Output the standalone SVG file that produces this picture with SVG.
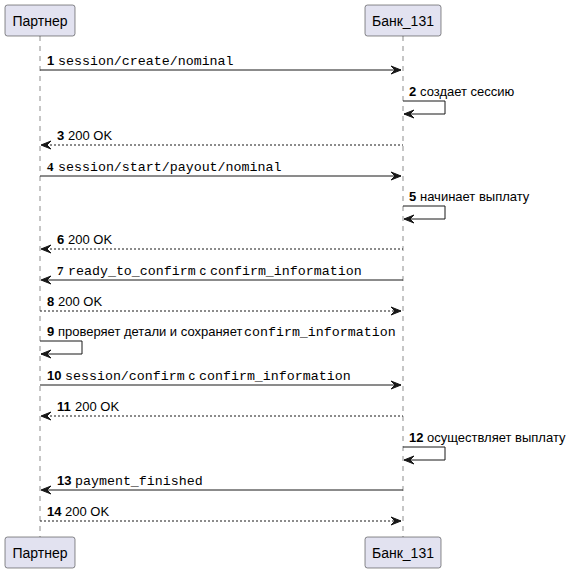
<svg xmlns="http://www.w3.org/2000/svg" width="572" height="573" viewBox="0 0 572 573">
<style>
.box{fill:#E2E2F0;stroke:#181818;stroke-width:0.5}
.life{stroke:#181818;stroke-width:0.5;stroke-dasharray:5,5;fill:none}
.msg{stroke:#181818;stroke-width:1;fill:none}
.ret{stroke:#181818;stroke-width:1;stroke-dasharray:2,2;fill:none}
.head{fill:#181818;stroke:#181818;stroke-width:1}
.pt{font-family:"Liberation Sans",Arial,sans-serif;font-size:14px;fill:#000000}
.t{font-family:"Liberation Sans",Arial,sans-serif;font-size:13px;fill:#000000}
.n{font-family:"Liberation Sans",Arial,sans-serif;font-size:13px;font-weight:bold;fill:#000000}
.ns{font-family:"Liberation Serif","Times New Roman",serif;font-size:13px;font-weight:bold;fill:#000000}
.m{font-family:"Liberation Mono","Courier New",monospace;font-size:13.3px;fill:#000000}
</style>
<rect width="572" height="573" fill="#FFFFFF"/>
<g id="lifelines">
<line class="life" x1="40" y1="36" x2="40" y2="537"/>
<line class="life" x1="403" y1="36" x2="403" y2="537"/>
</g>
<g id="partner">
<rect class="box" x="5" y="5" width="70" height="31" rx="2.5"/>
<text class="pt" x="40" y="25.5" text-anchor="middle">Партнер</text>
<rect class="box" x="5" y="537" width="70" height="31" rx="2.5"/>
<text class="pt" x="40" y="557.5" text-anchor="middle">Партнер</text>
</g>
<g id="bank">
<rect class="box" x="365" y="5" width="76" height="31" rx="2.5"/>
<text class="pt" x="403" y="25.5" text-anchor="middle">Банк_131</text>
<rect class="box" x="365" y="537" width="76" height="31" rx="2.5"/>
<text class="pt" x="403" y="557.5" text-anchor="middle">Банк_131</text>
</g>
<g id="connectors">
<!-- 1 -->
<line class="msg" x1="40" y1="70" x2="401" y2="70"/>
<polygon class="head" points="391,66 401,70 391,74 395,70"/>
<!-- 2 self -->
<polyline class="msg" points="403,101 445,101 445,114 404,114"/>
<polygon class="head" points="414,110 404,114 414,118 410,114"/>
<!-- 3 -->
<line class="ret" x1="42" y1="145" x2="403" y2="145"/>
<polygon class="head" points="51,141 41,145 51,149 47,145"/>
<!-- 4 -->
<line class="msg" x1="40" y1="176" x2="401" y2="176"/>
<polygon class="head" points="391,172 401,176 391,180 395,176"/>
<!-- 5 self -->
<polyline class="msg" points="403,206 445,206 445,219 404,219"/>
<polygon class="head" points="414,215 404,219 414,223 410,219"/>
<!-- 6 -->
<line class="ret" x1="42" y1="249" x2="403" y2="249"/>
<polygon class="head" points="51,245 41,249 51,253 47,249"/>
<!-- 7 -->
<line class="msg" x1="42" y1="280" x2="403" y2="280"/>
<polygon class="head" points="51,276 41,280 51,284 47,280"/>
<!-- 8 -->
<line class="ret" x1="40" y1="311" x2="401" y2="311"/>
<polygon class="head" points="391,307 401,311 391,315 395,311"/>
<!-- 9 self -->
<polyline class="msg" points="40,341 82,341 82,354 41,354"/>
<polygon class="head" points="51,350 41,354 51,358 47,354"/>
<!-- 10 -->
<line class="msg" x1="40" y1="385" x2="401" y2="385"/>
<polygon class="head" points="391,381 401,385 391,389 395,385"/>
<!-- 11 -->
<line class="ret" x1="42" y1="416" x2="403" y2="416"/>
<polygon class="head" points="51,412 41,416 51,420 47,416"/>
<!-- 12 self -->
<polyline class="msg" points="403,447 445,447 445,460 404,460"/>
<polygon class="head" points="414,456 404,460 414,464 410,460"/>
<!-- 13 -->
<line class="msg" x1="42" y1="490" x2="403" y2="490"/>
<polygon class="head" points="51,486 41,490 51,494 47,490"/>
<!-- 14 -->
<line class="ret" x1="40" y1="521" x2="401" y2="521"/>
<polygon class="head" points="391,517 401,521 391,525 395,521"/>
</g>
<g id="labels">
<text x="47" y="65"><tspan class="n">1</tspan><tspan class="m" x="58">session/create/nominal</tspan></text>
<text x="409" y="96"><tspan class="n">2</tspan><tspan class="t" x="420">создает сессию</tspan></text>
<text x="57" y="140"><tspan class="n">3</tspan><tspan class="t" x="68">200 OK</tspan></text>
<text x="47" y="171"><tspan class="ns">4</tspan><tspan class="m" x="58">session/start/payout/nominal</tspan></text>
<text x="409" y="201"><tspan class="n">5</tspan><tspan class="t" x="420">начинает выплату</tspan></text>
<text x="57" y="244"><tspan class="n">6</tspan><tspan class="t" x="68">200 OK</tspan></text>
<text x="57" y="275"><tspan class="ns">7</tspan><tspan class="m" x="68">ready_to_confirm</tspan><tspan class="t" x="199.5">с</tspan><tspan class="m" x="210">confirm_information</tspan></text>
<text x="47" y="306"><tspan class="n">8</tspan><tspan class="t" x="58">200 OK</tspan></text>
<text x="47" y="336"><tspan class="n">9</tspan><tspan class="t" x="58">проверяет детали и сохраняет</tspan><tspan class="m" x="244">confirm_information</tspan></text>
<text x="47" y="380"><tspan class="n">10</tspan><tspan class="m" x="65">session/confirm</tspan><tspan class="t" x="188.5">с</tspan><tspan class="m" x="199">confirm_information</tspan></text>
<text x="57" y="411"><tspan class="n">11</tspan><tspan class="t" x="75">200 OK</tspan></text>
<text x="409" y="442"><tspan class="n">12</tspan><tspan class="t" x="427">осуществляет выплату</tspan></text>
<text x="57" y="485"><tspan class="n">13</tspan><tspan class="m" x="75">payment_finished</tspan></text>
<text x="47" y="516"><tspan class="n">14</tspan><tspan class="t" x="65">200 OK</tspan></text>
</g>
</svg>
